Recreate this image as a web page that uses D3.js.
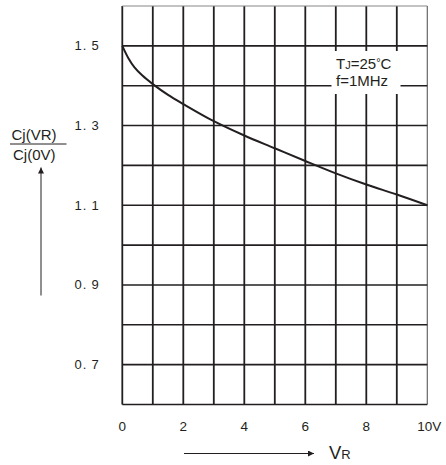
<!DOCTYPE html>
<html>
<head>
<meta charset="utf-8">
<script src="https://cdn.jsdelivr.net/npm/d3@7"></script>
<style>
  html, body { margin: 0; padding: 0; background: #fff; }
  svg { display: block; font-family: "Liberation Sans", Arial, sans-serif; }
</style>
</head>
<body>
<svg id="chart" width="446" height="465"></svg>
<script>
// Data
const vr = [0, 0.2, 0.4, 0.65, 1, 1.5, 2, 3, 4, 5, 6, 7, 8, 9, 10];
const cjRatio = [1.5, 1.469, 1.446, 1.426, 1.404, 1.377, 1.354, 1.311, 1.275, 1.243, 1.211, 1.18, 1.152, 1.127, 1.1];
const xTickValues = [0, 2, 4, 6, 8, 10];
const xTickLabels = ["0", "2", "4", "6", "8", "10V"];
const yTickValues = [1.5, 1.3, 1.1, 0.9, 0.7];
const yTickLabels = ["1. 5", "1. 3", "1. 1", "0. 9", "0. 7"];
const xGrid = d3.range(0, 11, 1);
const yGrid = [0.6, 0.7, 0.8, 0.9, 1.0, 1.1, 1.2, 1.3, 1.4, 1.5, 1.6];

const svg = d3.select("#chart");
const ink = "#231f20";

const x = d3.scaleLinear().domain([0, 10]).range([122.3, 427.3]);
const y = d3.scaleLinear().domain([0.6, 1.6]).range([404.5, 6]);

// Grid lines
const g = svg.append("g");
g.selectAll("line.v").data(xGrid).join("line")
  .attr("x1", d => x(d)).attr("x2", d => x(d))
  .attr("y1", y(1.6)).attr("y2", y(0.6))
  .attr("stroke", d => d === 10 ? "#666" : ink)
  .attr("stroke-width", d => d === 10 ? 1.2 : 1.8);
g.selectAll("line.h").data(yGrid).join("line")
  .attr("x1", x(0)).attr("x2", x(10))
  .attr("y1", d => y(d)).attr("y2", d => y(d))
  .attr("stroke", d => d === 1.6 ? "#888" : ink)
  .attr("stroke-width", d => d === 1.6 ? 1.2 : 1.6);

// Annotation white box
const ann = svg.append("g");
ann.append("rect")
  .attr("x", 331.5).attr("y", 51)
  .attr("width", 69).attr("height", 43)
  .attr("fill", "#fff");
const t1 = ann.append("text").attr("x", 336).attr("y", 69)
  .attr("font-size", 15).attr("fill", ink);
t1.append("tspan").text("T");
t1.append("tspan").attr("font-size", 11).text("J");
t1.append("tspan").text("=25");
t1.append("tspan").attr("font-size", 11).attr("dy", -3).text("°");
t1.append("tspan").attr("dy", 3).text("C");
ann.append("text").attr("x", 336).attr("y", 86)
  .attr("font-size", 15).attr("fill", ink).text("f=1MHz");

// Curve
const line = d3.line()
  .x((d, i) => x(vr[i]))
  .y(d => y(d))
  .curve(d3.curveCatmullRom.alpha(0.5));
svg.append("path")
  .datum(cjRatio)
  .attr("d", line)
  .attr("fill", "none")
  .attr("stroke", ink)
  .attr("stroke-width", 2);

// Y tick labels
svg.append("g").selectAll("text").data(yTickValues).join("text")
  .attr("x", 99.5)
  .attr("y", d => y(d) + 4.5)
  .attr("text-anchor", "end")
  .attr("font-size", 13)
  .attr("letter-spacing", 0.8)
  .attr("fill", ink)
  .text((d, i) => yTickLabels[i]);

// X tick labels
svg.append("g").selectAll("text").data(xTickValues).join("text")
  .attr("x", (d, i) => x(d) + (i === xTickValues.length - 1 ? 2 : 0))
  .attr("y", 431)
  .attr("text-anchor", "middle")
  .attr("font-size", 13.5)
  .attr("fill", ink)
  .text((d, i) => xTickLabels[i]);

// Arrow marker
const defs = svg.append("defs");
defs.append("marker")
  .attr("id", "arr")
  .attr("viewBox", "0 0 10 10")
  .attr("refX", 10).attr("refY", 5)
  .attr("markerUnits", "userSpaceOnUse")
  .attr("markerWidth", 7).attr("markerHeight", 6)
  .attr("orient", "auto")
  .append("path").attr("d", "M0,0 L10,5 L0,10 Z").attr("fill", ink);

// X axis title with arrow
svg.append("line")
  .attr("x1", 184).attr("x2", 314)
  .attr("y1", 453.5).attr("y2", 453.5)
  .attr("stroke", ink).attr("stroke-width", 1)
  .attr("marker-end", "url(#arr)");
const vt = svg.append("text").attr("x", 329).attr("y", 459)
  .attr("fill", ink).attr("font-size", 18.5);
vt.append("tspan").text("V");
vt.append("tspan").attr("font-size", 13).text("R");

// Y axis title: fraction with arrow
svg.append("text").attr("x", 11.5).attr("y", 140)
  .attr("font-size", 15).attr("fill", ink).text("Cj(VR)");
svg.append("line")
  .attr("x1", 10).attr("x2", 66.5).attr("y1", 144).attr("y2", 144)
  .attr("stroke", ink).attr("stroke-width", 1);
svg.append("text").attr("x", 13).attr("y", 160)
  .attr("font-size", 15).attr("fill", ink).text("Cj(0V)");
svg.append("line")
  .attr("x1", 41).attr("x2", 41).attr("y1", 295.5).attr("y2", 167.5)
  .attr("stroke", ink).attr("stroke-width", 1)
  .attr("marker-end", "url(#arr)");
</script>
</body>
</html>
